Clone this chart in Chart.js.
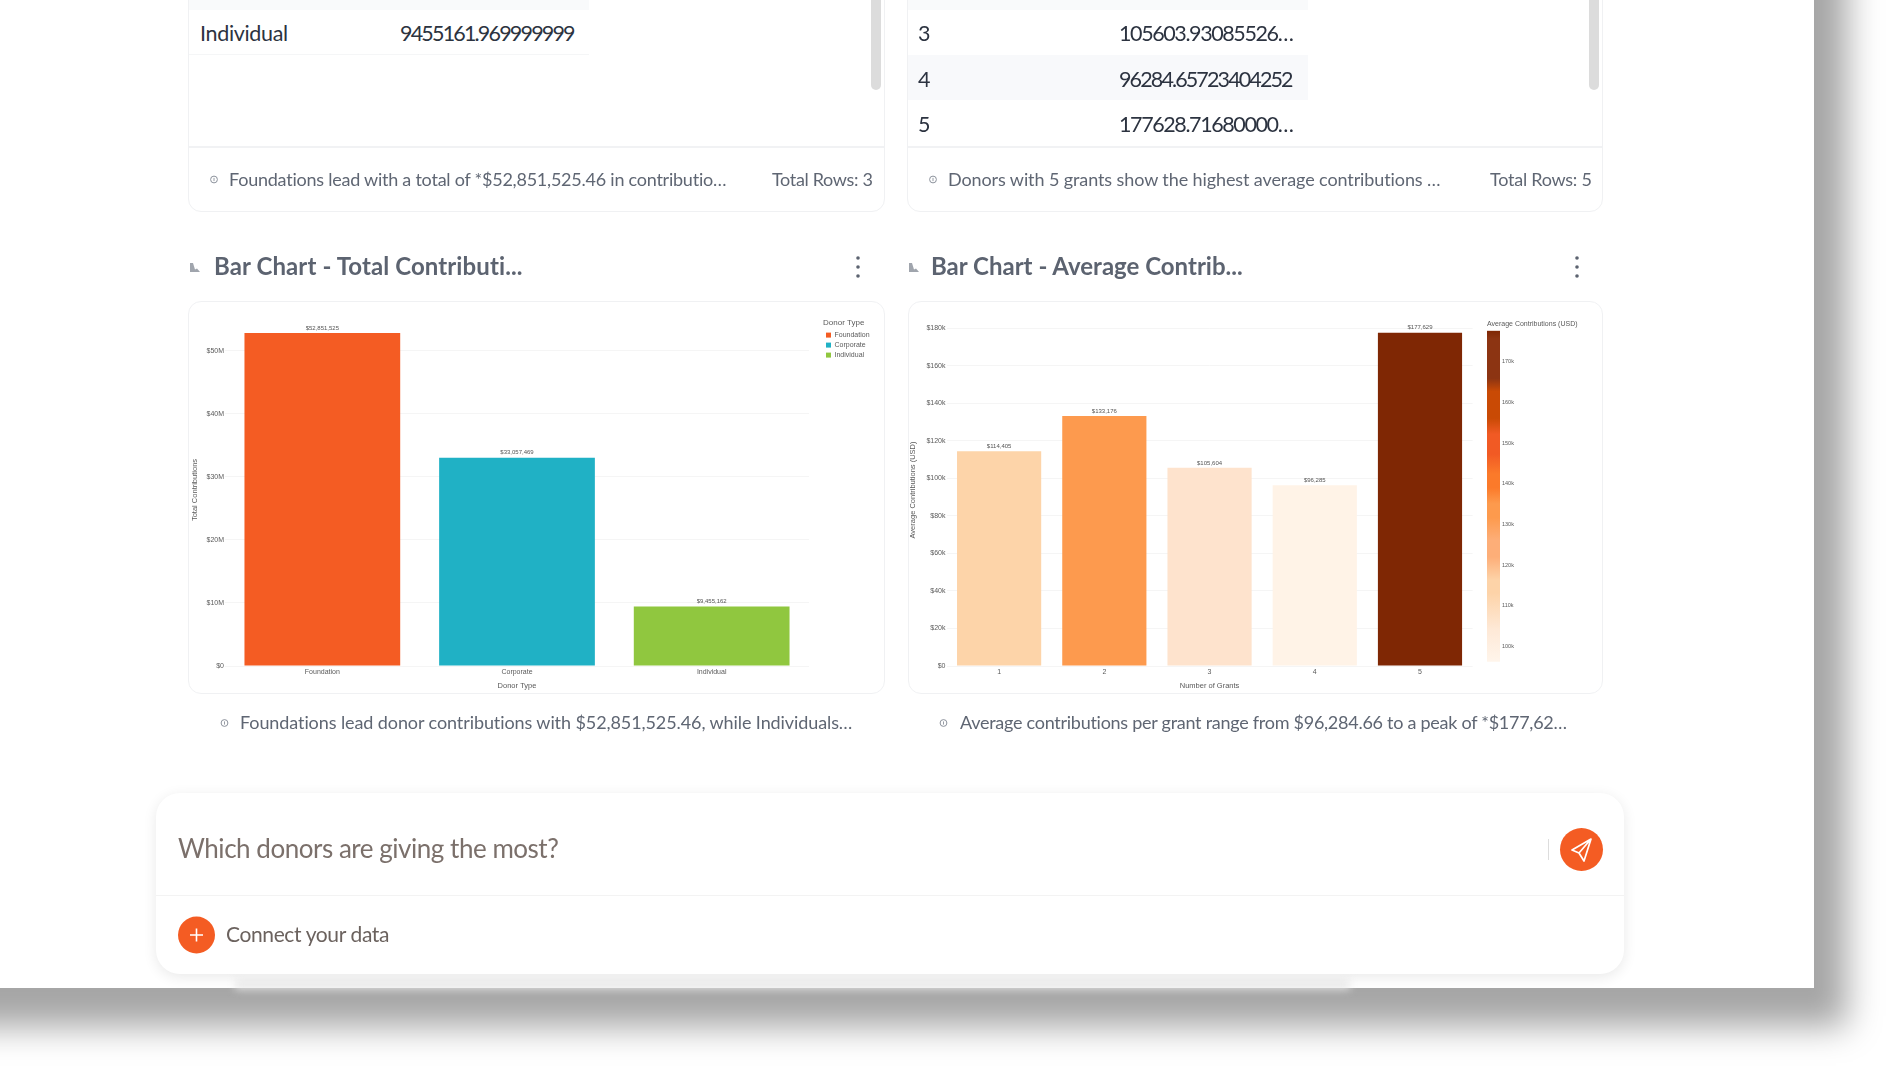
<!DOCTYPE html>
<html lang="en">
<head>
<meta charset="utf-8">
<title>Donor contributions</title>
<script src="https://cdn.jsdelivr.net/npm/chart.js@4/dist/chart.umd.min.js"></script>
<style>
html, body { margin: 0; width: 1896px; height: 1069px; overflow: hidden; background: #fff; }
#page { position: absolute; left: 0; top: 0; width: 1896px; height: 1069px; overflow: hidden; filter: blur(.4px); font-family: Lato, sans-serif; }
#panel { position: absolute; left: -80px; top: -80px; width: 1893.5px; height: 1068px; background: #fff; box-shadow: 33px 39px 32px #a6a6a6; }
.card { position: absolute; background: #fff; border: 1px solid #f0f1f3; border-radius: 13px; box-sizing: border-box; }
.box { position: absolute; }
.t { position: absolute; white-space: nowrap; transform: translateY(-50%); line-height: 1.2; }
.row { font-size: 21.5px; color: #2c3340; }
.foot { font-size: 18px; color: #5f6673; }
.head { font-size: 24px; font-weight: 700; color: #5c6370; }
canvas { position: absolute; display: block; filter: blur(.3px); }
svg { position: absolute; overflow: visible; }
#ask { position: absolute; left: 156px; top: 793px; width: 1468px; height: 181px; background: #fff; border-radius: 24px; box-shadow: 0 3px 14px rgba(0,0,0,.09); }
#behind { position: absolute; left: 235px; top: 981px; width: 1115px; height: 8px; background: #e8e8e8; filter: blur(4px); }
</style>
</head>
<body>
<div id="page">
  <div id="panel"></div>
  <div id="behind"></div>

  <!-- tabelle in alto -->
  <div class="card" style="left:188px;top:-40px;width:697px;height:252px"></div>
  <div class="card" style="left:907px;top:-40px;width:696px;height:252px"></div>
  <div class="box" style="left:189px;top:0;width:400px;height:10px;background:#f9fafb"></div>
  <div class="box" style="left:189px;top:54px;width:400px;height:1px;background:#f5f6f7"></div>
  <div class="box" style="left:908px;top:55px;width:400px;height:45px;background:#f8f9fb"></div>
  <div class="box" style="left:908px;top:0;width:400px;height:10px;background:#f9fafb"></div>
  <div class="box" style="left:189px;top:146px;width:695px;height:2px;background:#f1f2f4"></div>
  <div class="box" style="left:908px;top:146px;width:694px;height:2px;background:#f1f2f4"></div>
  <div class="box" style="left:871px;top:-10px;width:10px;height:100px;border-radius:5px;background:#dcdcdc"></div>
  <div class="box" style="left:1589px;top:-10px;width:10px;height:100px;border-radius:5px;background:#dcdcdc"></div>

  <div class="t row" style="left:200px;top:33.5px" data-w="88">Individual</div>
  <div class="t row" style="left:400px;top:33.5px" data-w="176">9455161.969999999</div>
  <div class="t row" style="left:918px;top:33.5px">3</div>
  <div class="t row" style="left:1119px;top:33.5px" data-w="175">105603.93085526…</div>
  <div class="t row" style="left:918px;top:79.5px">4</div>
  <div class="t row" style="left:1119px;top:79.5px" data-w="175">96284.65723404252</div>
  <div class="t row" style="left:918px;top:124.5px">5</div>
  <div class="t row" style="left:1119px;top:124.5px" data-w="175">177628.71680000…</div>

  <svg style="left:0;top:0" width="1" height="1" id="icons"></svg>

  <div class="t foot" style="left:229px;top:179.5px" data-w="498">Foundations lead with a total of *$52,851,525.46 in contributio…</div>
  <div class="t foot" style="left:772px;top:179.5px" data-w="101">Total Rows: 3</div>
  <div class="t foot" style="left:948px;top:179.5px" data-w="493">Donors with 5 grants show the highest average contributions …</div>
  <div class="t foot" style="left:1490px;top:179.5px" data-w="102">Total Rows: 5</div>

  <div class="t head" style="left:214px;top:265.5px" data-w="309">Bar Chart - Total Contributi...</div>
  <div class="t head" style="left:931px;top:265.5px" data-w="312">Bar Chart - Average Contrib...</div>

  <!-- card dei grafici -->
  <div class="card" style="left:188px;top:301px;width:697px;height:393px"></div>
  <div class="card" style="left:908px;top:301px;width:695px;height:393px"></div>
  <canvas id="totalChart" width="697" height="393" style="left:188px;top:300px"></canvas>
  <canvas id="averageChart" width="695" height="393" style="left:908px;top:300px"></canvas>
  <canvas id="rampChart" width="116" height="350" style="left:1487px;top:318px"></canvas>

  <div class="t foot" style="left:240px;top:722.5px" data-w="613">Foundations lead donor contributions with $52,851,525.46, while Individuals…</div>
  <div class="t foot" style="left:960px;top:722.5px" data-w="607">Average contributions per grant range from $96,284.66 to a peak of *$177,62…</div>

  <!-- casella di input -->
  <div id="ask">
    <div class="box" style="left:0;top:102px;width:1468px;height:1px;background:#f3f3f3"></div>
    <div class="box" style="left:1392px;top:46px;width:1px;height:21px;background:#dddddd"></div>
  </div>
  <div class="t" style="left:178px;top:848.5px;font-size:26px;color:#7b706b" data-w="381">Which donors are giving the most?</div>
  <div class="t" style="left:226px;top:933.5px;font-size:21px;color:#6b625e" data-w="163">Connect your data</div>
  <svg style="left:178px;top:916px" width="38" height="38" viewBox="0 0 38 38">
    <circle cx="18.5" cy="19" r="18.5" fill="#f45c23"/>
    <path d="M18.5 12.5v13M12 19h13" stroke="#fff" stroke-width="1.6" fill="none"/>
  </svg>
  <svg style="left:1560px;top:828px" width="43" height="43" viewBox="0 0 43 43">
    <circle cx="21.5" cy="21.5" r="21.5" fill="#f45c23"/>
    <path d="M31 11 L12 22 L19 25 L24 33 Z M31 11 L19 25" stroke="#fff" stroke-width="1.7" fill="none" stroke-linejoin="round"/>
  </svg>
</div>

<script>
// Dati
const donorTypes = ['Foundation', 'Corporate', 'Individual'];
const totalContributions = [52851525.46, 33057469, 9455161.97];
const totalLabels = ['$52,851,525', '$33,057,469', '$9,455,162'];
const totalTicks = [0, 10000000, 20000000, 30000000, 40000000, 50000000];
const donorColors = ['#f45c23', '#20b1c5', '#90c73f'];

const grantCounts = ['1', '2', '3', '4', '5'];
const averageContributions = [114405, 133176, 105603.93, 96284.66, 177628.72];
const averageLabels = ['$114,405', '$133,176', '$105,604', '$96,285', '$177,629'];
const averageTicks = [0, 20000, 40000, 60000, 80000, 100000, 120000, 140000, 160000, 180000];
const averageColors = ['#fdd4a9', '#fd9a4e', '#fee3cd', '#fff3e7', '#7f2704'];

// Scala colori della legenda (valore, colore), dall'alto verso il basso
const rampTicks = [100000, 110000, 120000, 130000, 140000, 150000, 160000, 170000];
const rampValues = [177628, 175600, 165900, 162700, 156100, 152200, 147300, 142400, 139000, 135100, 131700, 126100, 122000, 116300, 113200, 104100, 96285];
const rampColors = ['#7f2704', '#8c3412', '#8c3412', '#c94a05', '#c94a05', '#f15a24', '#f15a24', '#fb7a2a', '#fb7a2a', '#fd9a4d', '#fd9a4d', '#fdae78', '#fdae78', '#fdd3a8', '#fdd3a8', '#fee9d7', '#fff5eb'];

const CHART_FONT = 'Liberation Sans, Arial, sans-serif';
const TEXT_COLOR = '#5a5a5a';
const GRID_COLOR = '#f5f5f5';

// Adatta la larghezza dei testi a quella del riferimento
document.querySelectorAll('.t[data-w]').forEach(function(el) {
    const gap = (parseFloat(el.dataset.w) - el.offsetWidth) / (el.textContent.length - 1);
    el.style.letterSpacing = gap.toFixed(3) + 'px';
});

// Etichette dei valori sopra le barre
function barValueLabels(labels) {
    return {
        id: 'barValueLabels',
        afterDatasetsDraw(chart) {
            const ctx = chart.ctx;
            ctx.save();
            ctx.font = '6px ' + CHART_FONT;
            ctx.fillStyle = '#555';
            ctx.textAlign = 'center';
            ctx.textBaseline = 'middle';
            chart.getDatasetMeta(0).data.forEach(function(bar, i) {
                ctx.fillText(labels[i], bar.x, bar.y - 5);
            });
            ctx.restore();
        }
    };
}

// Formato dei tick: lo zero resta senza suffisso
function moneyTick(divisor, suffix) {
    return function(v) { return v === 0 ? '$0' : '$' + v / divisor + suffix; };
}

function axisOptions(yTitle, xTitle, yMax, yTicks, yFormat, yWidth, yTitlePad) {
    return {
        x: {
            grid: { display: false, drawTicks: false },
            border: { display: false },
            ticks: { font: { size: 7, family: CHART_FONT }, color: TEXT_COLOR, padding: 2, maxRotation: 0 },
            title: { display: true, text: xTitle, font: { size: 7.5, family: CHART_FONT }, color: TEXT_COLOR, padding: { top: 4, bottom: 3 } },
            afterFit(scale) { scale.height = 27; }
        },
        y: {
            min: 0,
            max: yMax,
            border: { display: false },
            grid: { color: GRID_COLOR, drawTicks: false },
            ticks: { padding: 1, font: { size: 7, family: CHART_FONT }, color: TEXT_COLOR, callback: yFormat },
            afterBuildTicks(scale) { scale.ticks = yTicks.map(function(v) { return { value: v }; }); },
            title: { display: true, text: yTitle, font: { size: 7.5, family: CHART_FONT }, color: TEXT_COLOR, padding: { top: yTitlePad, bottom: 0 } },
            afterFit(scale) { scale.width = yWidth; }
        }
    };
}

function initTotalChart() {
    new Chart(document.getElementById('totalChart'), {
        type: 'bar',
        data: {
            labels: donorTypes,
            datasets: [{ data: totalContributions, backgroundColor: donorColors, barPercentage: 0.8, categoryPercentage: 1 }]
        },
        options: {
            responsive: false,
            animation: false,
            layout: { padding: { top: 14 } },
            scales: axisOptions('Total Contributions', 'Donor Type', 55870000, totalTicks, moneyTick(1000000, 'M'), 37, 2),
            plugins: {
                tooltip: { enabled: false },
                legend: {
                    position: 'right',
                    align: 'start',
                    title: { display: true, text: 'Donor Type', position: 'start', color: TEXT_COLOR, font: { size: 8, family: CHART_FONT }, padding: { top: 5, bottom: 0 } },
                    labels: {
                        boxWidth: 5,
                        boxHeight: 5,
                        padding: 3,
                        color: TEXT_COLOR,
                        font: { size: 7, family: CHART_FONT },
                        generateLabels: function() {
                            return donorTypes.map(function(name, i) {
                                return { text: name, fillStyle: donorColors[i], strokeStyle: donorColors[i], lineWidth: 0, index: i };
                            });
                        }
                    }
                }
            }
        },
        plugins: [barValueLabels(totalLabels), {
            id: 'legendSlot',
            beforeInit(chart) {
                const fit = chart.legend.fit;
                chart.legend.fit = function() { fit.call(this); this.width = 76; };
            },
            afterLayout(chart) { chart.legend.left = chart.chartArea.right + 14; }
        }]
    });
}

function initAverageChart() {
    new Chart(document.getElementById('averageChart'), {
        type: 'bar',
        data: {
            labels: grantCounts,
            datasets: [{ data: averageContributions, backgroundColor: averageColors, barPercentage: 0.8, categoryPercentage: 1 }]
        },
        options: {
            responsive: false,
            animation: false,
            layout: { padding: { top: 14, right: 130.4 } },
            scales: axisOptions('Average Contributions (USD)', 'Number of Grants', 187600, averageTicks, moneyTick(1000, 'k'), 38.5, 0),
            plugins: { legend: { display: false }, tooltip: { enabled: false } }
        },
        plugins: [barValueLabels(averageLabels)]
    });
}

function initRampChart() {
    new Chart(document.getElementById('rampChart'), {
        type: 'bar',
        data: {
            labels: ['ramp'],
            datasets: [{
                data: [[rampValues[rampValues.length - 1], rampValues[0]]],
                barPercentage: 1,
                categoryPercentage: 1,
                backgroundColor: function(context) {
                    const area = context.chart.chartArea;
                    if (!area) return rampColors[0];
                    const y = context.chart.scales.y;
                    const grad = context.chart.ctx.createLinearGradient(0, area.top, 0, area.bottom);
                    rampValues.forEach(function(v, i) {
                        grad.addColorStop((y.getPixelForValue(v) - area.top) / (area.bottom - area.top), rampColors[i]);
                    });
                    return grad;
                }
            }]
        },
        options: {
            responsive: false,
            animation: false,
            layout: { padding: { bottom: 6.3 } },
            scales: {
                x: { display: false },
                y: {
                    position: 'right',
                    min: rampValues[rampValues.length - 1],
                    max: rampValues[0],
                    border: { display: false },
                    grid: { display: false, drawTicks: false },
                    ticks: { padding: 2, font: { size: 5.5, family: CHART_FONT }, color: TEXT_COLOR, callback: function(v) { return v / 1000 + 'k'; } },
                    afterBuildTicks(scale) { scale.ticks = rampTicks.map(function(v) { return { value: v }; }); },
                    afterFit(scale) { scale.width = 103; }
                }
            },
            plugins: {
                legend: { display: false },
                tooltip: { enabled: false },
                title: { display: true, text: 'Average Contributions (USD)', align: 'start', color: TEXT_COLOR, font: { size: 7, weight: 'normal', family: CHART_FONT }, padding: { top: 2, bottom: 2.3 } }
            }
        }
    });
}

// Piccole icone (info, barre, menu)
function drawIcons() {
    const svg = document.getElementById('icons');
    let html = '';
    [[214, 179.5], [933, 179.5], [224.5, 723], [943.5, 723]].forEach(function(p) {
        html += '<circle cx="' + p[0] + '" cy="' + p[1] + '" r="3.4" fill="none" stroke="#8b919b" stroke-width="1"/>';
        html += '<path d="M' + p[0] + ' ' + (p[1] - 1.6) + 'v3.2" stroke="#8b919b" stroke-width=".9"/>';
    });
    [[190, 263], [909, 263]].forEach(function(p) {
        html += '<path d="M' + p[0] + ' ' + p[1] + 'v9h10l-3-3.5-2 1-2-6.5z" fill="#a0a5ad"/>';
    });
    [858, 1577].forEach(function(x) {
        [258, 267, 276].forEach(function(y) {
            html += '<circle cx="' + x + '" cy="' + y + '" r="1.8" fill="#5c6370"/>';
        });
    });
    svg.innerHTML = html;
}

drawIcons();
initTotalChart();
initAverageChart();
initRampChart();
</script>
</body>
</html>
